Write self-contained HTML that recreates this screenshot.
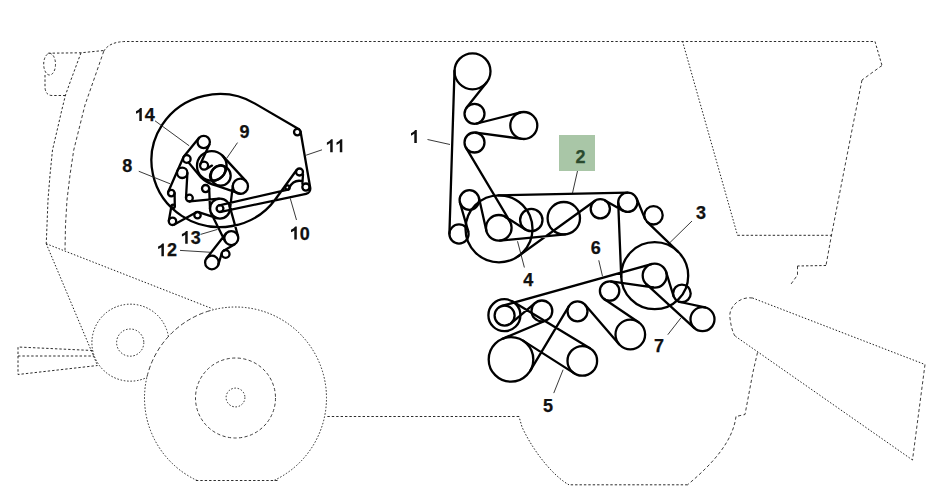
<!DOCTYPE html>
<html><head><meta charset="utf-8"><style>
html,body{margin:0;padding:0;background:#fff;width:947px;height:496px;overflow:hidden}
svg{display:block}
text{font-family:"Liberation Sans",sans-serif;font-weight:bold;font-size:18px;fill:#111;stroke:#111;stroke-width:0.25px}
</style></head><body>
<svg width="947" height="496" viewBox="0 0 947 496">
<path d="M103.75,51.25 Q109,42 125,41.5 L875,41.5 L882,65.5" stroke="#222" stroke-width="0.95" fill="none" stroke-dasharray="2.4 2"/>
<path d="M882,65.5 L862,80" stroke="#333" stroke-width="0.95" fill="none" stroke-dasharray="3.2 2.4"/>
<path d="M862,80 L852,130 L831.5,235 L826,265.5" stroke="#333" stroke-width="0.95" fill="none" stroke-dasharray="3.2 2.4"/>
<path d="M826,265.5 L797.5,266" stroke="#222" stroke-width="0.95" fill="none" stroke-dasharray="2.4 2"/>
<path d="M797.5,266 L797.5,275 L790,285.5" stroke="#333" stroke-width="0.95" fill="none" stroke-dasharray="3.2 2.4"/>
<path d="M682.5,41.25 L737.5,235.3" stroke="#222" stroke-width="1" fill="none" stroke-dasharray="1.5 1.8"/>
<path d="M737.5,235.3 L831.3,235.3" stroke="#222" stroke-width="0.95" fill="none" stroke-dasharray="2.4 2"/>
<path d="M752.5,298 L925,364.5" stroke="#222" stroke-width="1" fill="none" stroke-dasharray="1.5 1.8"/>
<path d="M925,364.5 L912.5,460" stroke="#333" stroke-width="0.95" fill="none" stroke-dasharray="3.2 2.4"/>
<path d="M912.5,460 L735,336" stroke="#222" stroke-width="1" fill="none" stroke-dasharray="1.5 1.8"/>
<path d="M752.5,298 C738,296 728,309 730,318 C731,327 733,333 735,336" stroke="#333" stroke-width="0.95" fill="none" stroke-dasharray="3.2 2.4"/>
<path d="M757.5,352.5 L753,372 L745,414.5 L736,416.5" stroke="#333" stroke-width="0.95" fill="none" stroke-dasharray="3.2 2.4"/>
<path d="M736,416.5 C733,440 715,462 687.5,484.8" stroke="#333" stroke-width="0.95" fill="none" stroke-dasharray="3.2 2.4"/>
<path d="M687.5,484.8 L569,484.8" stroke="#222" stroke-width="0.95" fill="none" stroke-dasharray="2.4 2"/>
<path d="M569,484.8 C556,478 535,455 522,427 L519,416.5" stroke="#222" stroke-width="1" fill="none" stroke-dasharray="1.5 1.8"/>
<path d="M519,416.5 L325.5,416.5" stroke="#222" stroke-width="0.95" fill="none" stroke-dasharray="2.4 2"/>
<path d="M48.2,53.2 L81,52.8 L103.75,50.5" stroke="#222" stroke-width="0.95" fill="none" stroke-dasharray="2.4 2"/>
<path d="M45,75 L45,88 Q46,95.5 52,95.5 L66,95.5" stroke="#222" stroke-width="0.95" fill="none" stroke-dasharray="2.4 2"/>
<path d="M81,52.8 L70.9,80 L65.5,95 L61.8,110 L57.2,130 L52.5,150 L50,175 L48,200 L47,225 L46.25,243.75" stroke="#222" stroke-width="0.95" fill="none" stroke-dasharray="2.4 2"/>
<path d="M103.75,51.25 L93.75,80 L85,105 L78.75,130 L73.75,150 L70,175 L67,200 L65.5,225 L65,250" stroke="#333" stroke-width="0.95" fill="none" stroke-dasharray="3.2 2.4"/>
<path d="M46.25,243.75 L212.5,308.75" stroke="#222" stroke-width="1" fill="none" stroke-dasharray="1.5 1.8"/>
<path d="M46.25,243.75 L97.5,365.5" stroke="#222" stroke-width="1" fill="none" stroke-dasharray="1.5 1.8"/>
<path d="M92.5,350.5 L18,347 L18,374.5 L97.5,365.5" stroke="#222" stroke-width="0.95" fill="none" stroke-dasharray="2.4 2"/>
<path d="M18,356 L94,356" stroke="#222" stroke-width="0.95" fill="none" stroke-dasharray="2.4 2"/>
<path d="M277.5,480.5 L195,480.5" stroke="#222" stroke-width="0.95" fill="none" stroke-dasharray="2.4 2"/>
<path d="M197.1,480.5A91,91 0 0 1 147.01,376.76" stroke="#222" stroke-width="1" fill="none" stroke-dasharray="1.5 1.8"/>
<path d="M147.01,376.76A91,91 0 0 1 209.05,310.93" stroke="#333" stroke-width="0.95" fill="none" stroke-dasharray="4.5 2.5"/>
<path d="M209.05,310.93A91,91 0 0 1 273.9,480.5" stroke="#222" stroke-width="1" fill="none" stroke-dasharray="1.5 1.8"/>
<circle cx="235.5" cy="398" r="40" stroke="#333" stroke-width="0.95" fill="none" stroke-dasharray="3.2 2.4"/>
<circle cx="235.5" cy="397.5" r="9.4" stroke="#222" stroke-width="1" fill="none" stroke-dasharray="1.5 1.8"/>
<path d="M168.4,336.5 A38.5,38.5 0 1 0 146.8,377.5" stroke="#222" stroke-width="1" fill="none" stroke-dasharray="1.5 1.8"/>
<circle cx="130.2" cy="342.6" r="13.6" stroke="#222" stroke-width="1" fill="none" stroke-dasharray="1.5 1.8"/>
<ellipse cx="49.6" cy="64.2" rx="5.9" ry="10.8" stroke="#222" stroke-width="0.95" fill="none" stroke-dasharray="2.4 2"/>
<path d="M454.51,70.74L449.4,233.7 M486.59,82.5L466.67,107.58 M476.97,123.49L520.47,112.42 M521.98,138.88L475.85,132.59 M465.91,147.62L509.8,221.25 M505.66,216.99L525.3,229.46 M459.98,202.71L468.23,231.34 M478.96,197.85L486.31,230.6 M498.33,195.31L627.61,192.7 M636.67,198.64L645,218.81 M647.12,221.93L677.92,251.56 M621.23,277.06L618.21,202.69 M518.61,255.96L594.68,201.02 M605.03,200.44L623.07,210.66 M500.01,240.54L565.33,234.33 M501.9,305.97L651.46,264.05 M512.68,301.51L589.96,348.24 M511.03,323.26L535.21,302.94 M545.94,320.48L502.34,338.85 M523,340.6L574.34,373.37 M568.92,306.16L530.13,370.87 M585.07,304.76L619.1,344.17 M604.18,299.04L638.57,322.23 M610.99,281.4L652.98,287.48 M666.17,272.09L673.49,295.98 M680.02,302L705.07,307.48 M646.61,284.47L694.41,328.07 M198.89,138.09L183.85,156.6 M183.33,157.46L177.45,170.69 M177.43,170.73L168.27,191.78 M209.34,144.58L200.46,163.93 M222.68,155.87L245.99,181.15 M187.39,173.09L186.01,197.91 M174.6,193.05L174.8,206.27 M171.43,206.01L168.86,220.66 M174.31,224.53L195.94,212.41 M189.73,201.48L219.04,198.65 M209.2,188.46L210.01,208.99 M232.85,185.4L229.93,209.79 M211.04,213.05L225.03,241.21 M229.64,205.93L238.05,236.23 M198.48,212.16L216.92,218.12 M225.79,233.78L206.55,258.3 M218.42,264.44L221.86,252.89 M223.64,250.63L234.81,244.16 M255.03,103.62L299,129.35 M300.55,131.54L310.22,187.7 M275.62,198.98L296.64,170.03 M219.25,205.28L287.99,189.65 M220.71,211.93L306.1,193.78 M303,174.5L302.4,184 M207.5,168.3L212,165.6 M255.03,103.62A68.35,66.5 0 1 0 275.62,198.98 M289.3,187.8Q293.5,179 302.5,181.2 M306.1,193.78A5.3,5.3 0 0 0 310.22,187.7 M188.6,162.5L201,177.4Q207,183.5 217.2,185.8L240.5,193.9" stroke="#000" stroke-width="2.3" fill="none" stroke-linecap="round"/>
<g stroke="#000" stroke-width="2.3" fill="none"><circle cx="203.7" cy="142" r="6.2"/><circle cx="186.8" cy="159" r="3.8"/><circle cx="204.1" cy="165.6" r="4"/><circle cx="220.7" cy="175.7" r="10"/><circle cx="240.4" cy="186.3" r="7.6"/><circle cx="182.2" cy="172.8" r="5.2"/><circle cx="171.3" cy="193.1" r="3.3"/><circle cx="189.4" cy="198.1" r="3.4"/><circle cx="205.6" cy="188.6" r="3.6"/><circle cx="173.1" cy="206.3" r="1.7"/><circle cx="197.5" cy="215.2" r="3.2"/><circle cx="172.5" cy="221.3" r="3.7"/><circle cx="220" cy="208.6" r="3.4"/><circle cx="220" cy="208.6" r="10"/><circle cx="297.3" cy="132.1" r="3.3"/><circle cx="299.5" cy="172" r="3.5"/><circle cx="305.9" cy="187.1" r="3.6"/><circle cx="287.5" cy="187.5" r="2.2"/><circle cx="231.3" cy="238.1" r="7"/><circle cx="225.6" cy="254" r="3.9"/><circle cx="211.9" cy="262.5" r="6.8"/><circle cx="211.8" cy="165.9" r="14.8"/><circle cx="472.5" cy="71.3" r="18"/><circle cx="474.5" cy="113.8" r="10"/><circle cx="474.5" cy="142.5" r="10"/><circle cx="523.8" cy="125.5" r="13.5"/><circle cx="469.4" cy="200" r="9.8"/><circle cx="459" cy="234" r="9.6"/><circle cx="498.8" cy="227.8" r="12.8"/><circle cx="531.3" cy="220" r="11.2"/><circle cx="563.8" cy="218.2" r="16.2"/><circle cx="600.3" cy="208.8" r="9.6"/><circle cx="627.8" cy="202.3" r="9.6"/><circle cx="653.5" cy="215.3" r="9.2"/><circle cx="499" cy="228.8" r="33.5"/><circle cx="654.7" cy="275.7" r="33.5"/><circle cx="654.7" cy="275.6" r="12"/><circle cx="681.9" cy="293.4" r="8.8"/><circle cx="702.5" cy="319.2" r="12"/><circle cx="504.4" cy="315.2" r="16"/><circle cx="504.6" cy="315.6" r="10"/><circle cx="541.9" cy="310.9" r="10.4"/><circle cx="577.5" cy="311.3" r="10"/><circle cx="609.6" cy="291" r="9.7"/><circle cx="511" cy="359.4" r="22.3"/><circle cx="582.3" cy="360.9" r="14.8"/><circle cx="630.3" cy="334.5" r="14.8"/><ellipse cx="217.7" cy="172.9" rx="9.2" ry="5.8" transform="rotate(-45 217.7 172.9)"/></g>
<path d="M155,120.8L189.2,145.8 M138.75,171.25L170,183.75 M237.5,142.6L226.7,158.3 M322,149.8L306.1,155.2 M290.2,198.2L296.5,220 M200.6,234.4L217.5,229.4 M180,250.4L210,252.25 M427.5,139.5L450,144.5 M577.5,171L572.5,193 M692,221L670,242.5 M517.5,241.25L524.4,267.5 M553.75,393.1L563.1,369.7 M598.75,260.3L602.5,276.25 M667.8,334.7L681,317.8" stroke="#222" stroke-width="0.9" fill="none"/>
<rect x="559" y="135" width="36" height="36" fill="#a9c6a7"/>
<text x="144.8" y="121">4</text>
<text x="122.2" y="172.1">8</text>
<text x="239.4" y="137.8">9</text>
<text x="299.8" y="239.5">0</text>
<text x="190.7" y="243.8">3</text>
<text x="166.9" y="256.3">2</text>
<text x="696.1" y="218.7">3</text>
<text x="523.2" y="286">4</text>
<text x="543" y="412">5</text>
<text x="590.8" y="254">6</text>
<text x="653.9" y="351.6">7</text>
<path d="M139.3,121L141.8,121L141.8,108.1L140.2,108.1Q139.1,110 136,111.3L136,113.8Q138,113.1 139.3,111.9ZM330.2,152.2L332.7,152.2L332.7,139.3L331.1,139.3Q330,141.2 326.9,142.5L326.9,145Q328.9,144.3 330.2,143.1ZM339.8,152.2L342.3,152.2L342.3,139.3L340.7,139.3Q339.6,141.2 336.5,142.5L336.5,145Q338.5,144.3 339.8,143.1ZM294.3,239.5L296.8,239.5L296.8,226.6L295.2,226.6Q294.1,228.5 291,229.8L291,232.3Q293,231.6 294.3,230.4ZM185.2,243.8L187.7,243.8L187.7,230.9L186.1,230.9Q185,232.8 181.9,234.1L181.9,236.6Q183.9,235.9 185.2,234.7ZM161.4,256.3L163.9,256.3L163.9,243.4L162.3,243.4Q161.2,245.3 158.1,246.6L158.1,249.1Q160.1,248.4 161.4,247.2ZM414.3,142.9L416.8,142.9L416.8,130L415.2,130Q414.1,131.9 411,133.2L411,135.7Q413,135 414.3,133.8Z" fill="#111"/>
<text x="575.5" y="162.5" style="fill:#2b4a2e;stroke:#2b4a2e">2</text>
</svg></body></html>
